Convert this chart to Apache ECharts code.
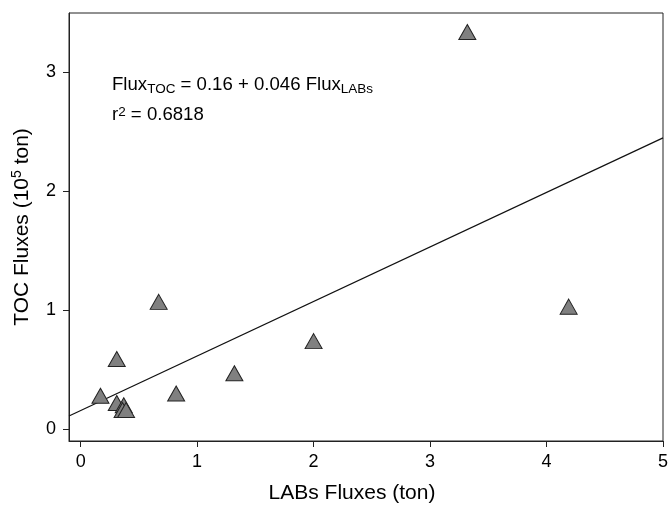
<!DOCTYPE html>
<html>
<head>
<meta charset="utf-8">
<script src="https://cdn.jsdelivr.net/npm/echarts@6/dist/echarts.min.js"></script>
<style>
  html, body { margin: 0; padding: 0; background: #fff; }
  #chart { width: 668px; height: 506px; }
</style>
</head>
<body>
<div id="chart"></div>
<script>
// LABs flux (ton) vs TOC flux (10^5 ton)
var labsFlux = [3.32, 4.19, 2.0, 1.32, 0.82, 0.67, 0.31, 0.17, 0.31, 0.37, 0.36, 0.39]
var tocFlux = [3.34, 1.03, 0.74, 0.47, 0.30, 1.07, 0.59, 0.28, 0.22, 0.20, 0.16, 0.16]
// regression line ends
var fitX = [-0.1, 5]
var fitY = [0.11, 2.45]
var xTicks = [0, 1, 2, 3, 4, 5]
var yTicks = [0, 1, 2, 3]

var font = 'Liberation Sans, Arial, sans-serif'
var chart = echarts.init(document.getElementById('chart'))

var points = labsFlux.map(function (x, i) { return [x, tocFlux[i]] })
var fit = fitX.map(function (x, i) { return [x, fitY[i]] })

var option = {
  backgroundColor: '#fff',
  animation: false,
  grid: {
    left: 69,
    top: 13,
    right: 5,
    bottom: 65,
    outerBoundsMode: 'none',
    containLabel: false,
    show: true,
    borderColor: '#222',
    borderWidth: 1
  },
  xAxis: {
    type: 'value',
    min: -0.1,
    max: 5,
    name: 'LABs Fluxes (ton)',
    nameLocation: 'middle',
    nameGap: 42,
    nameTextStyle: { fontSize: 21, color: '#000', fontFamily: font, padding: [0, 28, 0, 0] },
    axisLine: { show: true, onZero: false, lineStyle: { color: '#222', width: 1 } },
    axisTick: { show: true, length: 6, customValues: xTicks, lineStyle: { color: '#222' } },
    axisLabel: { customValues: xTicks, margin: 12, fontSize: 18, color: '#000', fontFamily: font },
    splitLine: { show: false }
  },
  yAxis: {
    type: 'value',
    min: -0.1,
    max: 3.5,
    name: '{a|TOC Fluxes (10}{s|5}{a| ton)}',
    nameLocation: 'middle',
    nameGap: 35,
    nameTextStyle: {
      color: '#000',
      fontFamily: font,
      rich: {
        a: { fontSize: 21, lineHeight: 24, fontFamily: font, color: '#000' },
        s: { fontSize: 14, lineHeight: 16, verticalAlign: 'top', fontFamily: font, color: '#000' }
      }
    },
    axisLine: { show: true, onZero: false, lineStyle: { color: '#222', width: 1 } },
    axisTick: { show: true, length: 6, customValues: yTicks, lineStyle: { color: '#222' } },
    axisLabel: { customValues: yTicks, margin: 13, fontSize: 18, color: '#000', fontFamily: font },
    splitLine: { show: false }
  },
  graphic: [
    {
      type: 'text',
      left: 112,
      top: 75,
      style: {
        text: '{m|Flux}{b|TOC}{m| = 0.16 + 0.046 Flux}{b|LABs}',
        rich: {
          m: { fontSize: 18.6, lineHeight: 24, fontFamily: font, fill: '#000' },
          b: { fontSize: 13.5, lineHeight: 13, verticalAlign: 'bottom', fontFamily: font, fill: '#000' }
        }
      }
    },
    {
      type: 'text',
      left: 112,
      top: 105,
      style: {
        text: '{m|r}{p|2}{m| = 0.6818}',
        rich: {
          m: { fontSize: 18.6, lineHeight: 20, fontFamily: font, fill: '#000' },
          p: { fontSize: 13.5, lineHeight: 13, verticalAlign: 'top', fontFamily: font, fill: '#000' }
        }
      }
    }
  ],
  series: [
    {
      type: 'line',
      data: fit,
      symbol: 'none',
      lineStyle: { color: '#111', width: 1.2 },
      z: 2
    },
    {
      type: 'scatter',
      data: points,
      symbol: 'triangle',
      symbolSize: [17, 15],
      itemStyle: { color: '#808080', borderColor: '#222', borderWidth: 1, opacity: 1 },
      z: 3
    }
  ]
}
chart.setOption(option)
</script>
</body>
</html>
